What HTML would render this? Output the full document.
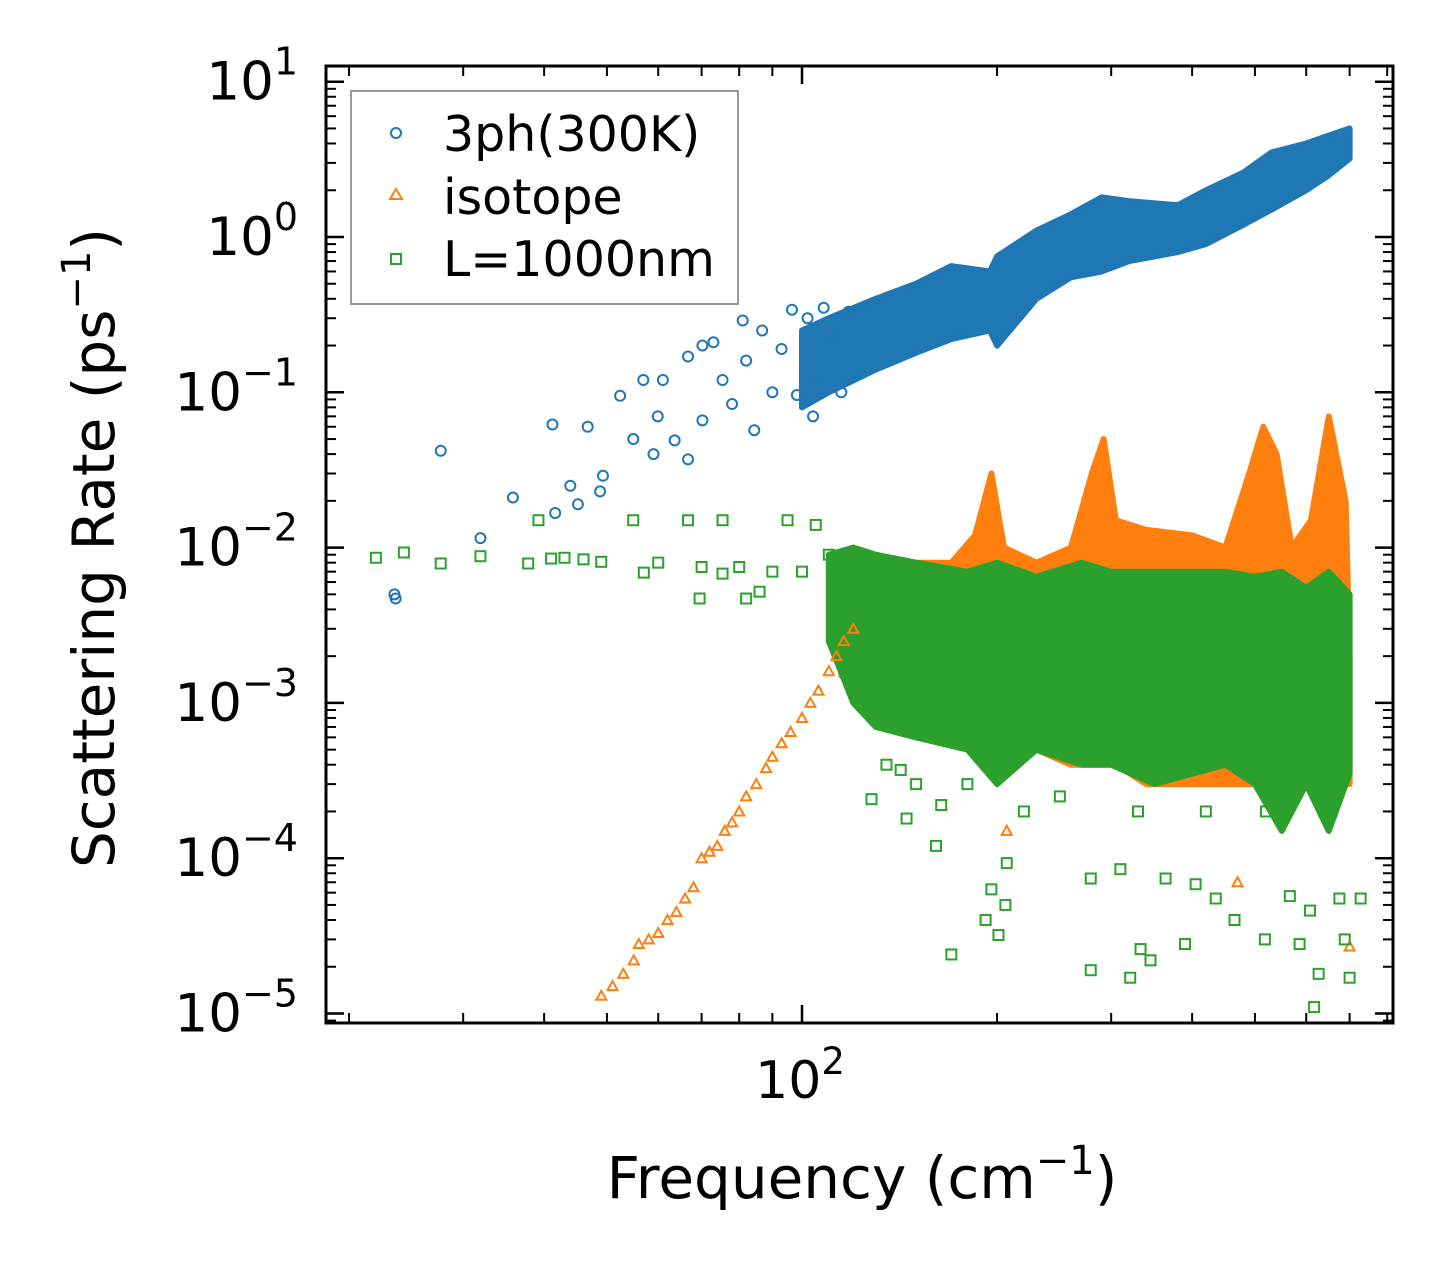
<!DOCTYPE html>
<html><head><meta charset="utf-8"><style>
html,body{margin:0;padding:0;background:#fff;}
svg{display:block;font-family:"DejaVu Sans","Liberation Sans",sans-serif;}
</style></head><body>
<svg id="chart" width="1455" height="1272" viewBox="0 0 1455 1272">
<rect width="1455" height="1272" fill="#fff"/>
<defs><clipPath id="plotclip"><rect x="327" y="67" width="1066" height="955"/></clipPath></defs>
<g id="bands" clip-path="url(#plotclip)"></g>
<g id="marks" clip-path="url(#plotclip)"></g>
<g id="axes"></g>
<g>
  <rect x="351" y="91" width="387" height="213" fill="#fff" fill-opacity="0.8" stroke="#999" stroke-width="2"/>
  <circle cx="396" cy="133" r="5" fill="none" stroke="#1f77b4" stroke-width="2"/>
  <text x="443" y="151" font-size="49">3ph(300K)</text>
  <path d="M396,189 L402,199 L390,199 Z" fill="none" stroke="#ff7f0e" stroke-width="2"/>
  <text x="443" y="214" font-size="49">isotope</text>
  <rect x="391" y="254" width="10" height="10" fill="none" stroke="#2ca02c" stroke-width="2"/>
  <text x="443" y="276" font-size="49">L=1000nm</text>
</g>
<text x="862" y="1198" font-size="58" text-anchor="middle">Frequency (cm<tspan dy="-24" font-size="40">−1</tspan><tspan dy="24">)</tspan></text>
<text transform="translate(114,548) rotate(-90)" font-size="58" text-anchor="middle">Scattering Rate (ps<tspan dy="-24" font-size="40">−1</tspan><tspan dy="24">)</tspan></text>
</svg>
<script>
// ---- data (frequency cm^-1, rate ps^-1) ----
const blueFreq = [23.5,23.6,27.7,31.9,35.8,41.2,41.6,43.9,45.1,46.7,48.8,49.3,52.4,54.9,56.9,59.0,59.9,61,63.6,66.7,66.7,70.2,70.2,73,75.4,78,81,82,84.4,86.8,90,93,96.5,98.2,102,105,108,112,118,104,115];
const blueRate = [0.005,0.0047,0.042,0.0115,0.021,0.062,0.0167,0.025,0.019,0.06,0.023,0.029,0.095,0.05,0.12,0.04,0.07,0.12,0.049,0.17,0.037,0.2,0.066,0.21,0.12,0.084,0.29,0.16,0.057,0.25,0.1,0.19,0.34,0.096,0.3,0.12,0.35,0.22,0.33,0.07,0.1];
const blueBandF  = [100,110,130,150,170,195,200,230,260,290,320,380,420,480,530,600,650,700];
const blueBandLo = [0.08,0.1,0.14,0.18,0.22,0.25,0.2,0.4,0.55,0.6,0.7,0.8,0.9,1.2,1.5,2.0,2.5,3.2];
const blueBandHi = [0.25,0.3,0.4,0.5,0.65,0.6,0.75,1.1,1.4,1.8,1.7,1.6,2.0,2.6,3.5,4.0,4.5,5.0];

const orangeFreq = [49,51,53,55,56,58,60,62,64,66,68,70,72,74,76,78,80,82,85,88,90,93,96,100,103,106,110,113,116,120,700,207,290,470];
const orangeRate = [1.3e-5,1.5e-5,1.8e-5,2.2e-5,2.8e-5,3e-5,3.3e-5,4e-5,4.5e-5,5.5e-5,6.5e-5,1e-4,1.1e-4,1.2e-4,1.5e-4,1.7e-4,2e-4,2.5e-4,3e-4,3.8e-4,4.5e-4,5.5e-4,6.5e-4,8e-4,1e-3,1.2e-3,1.6e-3,2e-3,2.5e-3,3e-3,2.7e-5,1.5e-4,1.6e-2,7e-5];
const orangeBandF  = [115,130,150,170,185,196,205,230,260,280,292,305,340,400,450,490,515,540,570,610,650,690,700];
const orangeBandLo = [1.5e-3,1e-3,8e-4,7e-4,6e-4,6e-4,6e-4,5e-4,4e-4,4e-4,4e-4,4e-4,3e-4,3e-4,3e-4,3e-4,3e-4,3e-4,3e-4,3e-4,3e-4,3e-4,3e-4];
const orangeBandHi = [3e-3,5e-3,8e-3,8e-3,1.2e-2,3e-2,1e-2,8e-3,1e-2,3e-2,5e-2,1.5e-2,1.3e-2,1.2e-2,1e-2,3e-2,6e-2,4e-2,1e-2,1.5e-2,7e-2,2e-2,2e-3];

const greenFreq = [22,24.3,27.7,31.9,37.8,39.2,41,43,46,49,54.9,57,60,66.7,69.5,70,75.4,75.4,80,82,86,90,95,100,105,110,128,142,145,161,164,170,192,196,201,206,207,279,279,310,321,333,345,364,390,405,435,465,518,566,586,608,617,627,675,700,728,688,135,150,180,220,250,330,420,520,640];
const greenRate = [8.6e-3,9.3e-3,7.9e-3,8.8e-3,7.9e-3,1.5e-2,8.5e-3,8.6e-3,8.4e-3,8.1e-3,1.5e-2,6.9e-3,8e-3,1.5e-2,4.7e-3,7.5e-3,1.5e-2,6.8e-3,7.5e-3,4.7e-3,5.2e-3,7e-3,1.5e-2,7e-3,1.4e-2,9e-3,2.4e-4,3.7e-4,1.8e-4,1.2e-4,2.2e-4,2.4e-5,4e-5,6.3e-5,3.2e-5,5e-5,9.3e-5,1.9e-5,7.4e-5,8.5e-5,1.7e-5,2.6e-5,2.2e-5,7.4e-5,2.8e-5,6.8e-5,5.5e-5,4e-5,3e-5,5.7e-5,2.8e-5,4.6e-5,1.1e-5,1.8e-5,5.5e-5,1.7e-5,5.5e-5,3e-5,4e-4,3e-4,3e-4,2e-4,2.5e-4,2e-4,2e-4,2e-4,2e-4];
const greenBandF  = [110,120,130,150,180,200,230,270,300,350,400,450,500,550,600,650,700];
const greenBandLo = [2.5e-3,1e-3,7e-4,6e-4,5e-4,3e-4,5e-4,4e-4,4e-4,3e-4,3.5e-4,4e-4,3e-4,1.5e-4,3e-4,1.5e-4,3.5e-4];
const greenBandHi = [9e-3,1e-2,9e-3,8e-3,7e-3,8e-3,6.5e-3,8e-3,7e-3,7e-3,7e-3,7e-3,6.5e-3,7e-3,5.5e-3,7e-3,5e-3];

const xMajorTicks = [100];
const xMinorTicks = [20,30,40,50,60,70,80,90,200,300,400,500,600,700,800];
const yMajorExp = [1,0,-1,-2,-3,-4,-5];

// ---- axes ----
const X0=326,X1=1393,Y0=66,Y1=1023;
function xs(f){return 802+648*(Math.log10(f)-2);}
function ys(r){return 237-155.3*Math.log10(r);}
const NS="http://www.w3.org/2000/svg";
function mk(tag,attrs,parent){const e=document.createElementNS(NS,tag);for(const k in attrs)e.setAttribute(k,attrs[k]);parent.appendChild(e);return e;}

const bands=document.getElementById('bands');
const marks=document.getElementById('marks');
const axes=document.getElementById('axes');

function band(F,Lo,Hi,color,name){
  let d='';
  F.forEach((f,i)=>{d+=(i?'L':'M')+xs(f).toFixed(1)+','+ys(Hi[i]).toFixed(1);});
  for(let i=F.length-1;i>=0;i--) d+='L'+xs(F[i]).toFixed(1)+','+ys(Lo[i]).toFixed(1);
  const p=mk('path',{d:d+'Z',fill:color,stroke:color,'stroke-width':6,'stroke-linejoin':'round'},bands);
  
  
}
band(orangeBandF,orangeBandLo,orangeBandHi,'#ff7f0e','isotope-band');
band(greenBandF,greenBandLo,greenBandHi,'#2ca02c','boundary-band');
band(blueBandF,blueBandLo,blueBandHi,'#1f77b4','3ph-band');

orangeFreq.forEach((f,i)=>{
  const x=xs(f),y=ys(orangeRate[i]);
  const p=mk('path',{d:`M${x},${y-5}L${x+5},${y+4}L${x-5},${y+4}Z`,fill:'none',stroke:'#ff7f0e','stroke-width':2},marks);
  
  
});
greenFreq.forEach((f,i)=>{
  const x=xs(f),y=ys(greenRate[i]);
  const r=mk('rect',{x:x-5,y:y-5,width:10,height:10,fill:'none',stroke:'#2ca02c','stroke-width':2},marks);
  
  
});
blueFreq.forEach((f,i)=>{
  const c=mk('circle',{cx:xs(f),cy:ys(blueRate[i]),r:5,fill:'none',stroke:'#1f77b4','stroke-width':2},marks);
  
  
});

const fr=mk('rect',{x:X0,y:Y0,width:X1-X0,height:Y1-Y0,fill:'none',stroke:'#000','stroke-width':3},axes);



xMajorTicks.forEach(f=>{
  const x=xs(f);
  mk('line',{x1:x,x2:x,y1:Y1,y2:Y1-18,stroke:'#000','stroke-width':2.5},axes);
  mk('line',{x1:x,x2:x,y1:Y0,y2:Y0+18,stroke:'#000','stroke-width':2.5},axes);
  const t=mk('text',{x:x-2,y:1098,'font-size':52,'text-anchor':'middle'},axes);
  
  
  t.innerHTML='10<tspan dy="-24" font-size="37">'+Math.round(Math.log10(f))+'</tspan>';
});
xMinorTicks.forEach(f=>{
  const x=xs(f);
  mk('line',{x1:x,x2:x,y1:Y1,y2:Y1-10,stroke:'#000','stroke-width':2},axes);
  mk('line',{x1:x,x2:x,y1:Y0,y2:Y0+10,stroke:'#000','stroke-width':2},axes);
});
yMajorExp.forEach(e=>{
  const y=ys(Math.pow(10,e));
  mk('line',{x1:X0,x2:X0+18,y1:y,y2:y,stroke:'#000','stroke-width':2.5},axes);
  mk('line',{x1:X1,x2:X1-18,y1:y,y2:y,stroke:'#000','stroke-width':2.5},axes);
  const t=mk('text',{x:298,y:y+18,'font-size':53,'text-anchor':'end'},axes);
  
  
  t.innerHTML='10<tspan dy="-25" font-size="38">'+(e<0?'−'+(-e):e)+'</tspan>';
  for(let m=2;m<=9;m++){
    const ym=ys(m*Math.pow(10,e-1));
    if(ym<Y0+1||ym>Y1-1) continue;
    mk('line',{x1:X0,x2:X0+10,y1:ym,y2:ym,stroke:'#000','stroke-width':2},axes);
    mk('line',{x1:X1,x2:X1-10,y1:ym,y2:ym,stroke:'#000','stroke-width':2},axes);
  }
});
</script>
</body></html>
